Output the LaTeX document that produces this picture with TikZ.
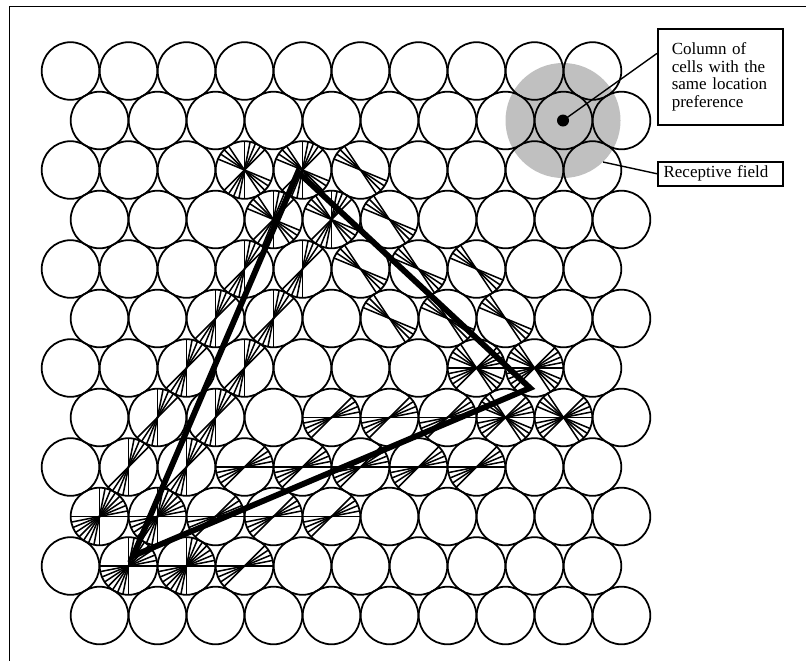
\documentclass[tikz,border=0pt]{standalone}
\usepackage{fontspec}
\setmainfont{Liberation Serif}
\usepackage{tikz}
\usetikzlibrary{calc}
\definecolor{field}{HTML}{C0C0C0}
\newcommand\cellrad{28.8}
\newcommand\fieldrad{55}
% distance from point (#1,#2) to segment (#3,#4)--(#5,#6), result in \sdist
\newcommand\segdist[6]{%
  \edef\segt{\fpeval{max(0,min(1,((#1-#3)*(#5-#3)+(#2-#4)*(#6-#4))/((#5-#3)^2+(#6-#4)^2)))}}%
  \edef\sdist{\fpeval{sqrt((#1-#3-\segt*(#5-#3))^2+(#2-#4-\segt*(#6-#4))^2)}}%
}
% difference of two orientations, modulo 180
\newcommand\angdiff[2]{min(((#1)-(#2))-180*floor(((#1)-(#2))/180),180-(((#1)-(#2))-180*floor(((#1)-(#2))/180)))}

\begin{document}
\begin{tikzpicture}[x=0.03cm,y=-0.03cm,
  cellline/.style={line width=1.5pt},
  tuning/.style={line width=1.3pt},
  stimulus/.style={line width=5pt,line join=miter},
  notebox/.style={draw,line width=1.3pt,anchor=north west,align=left,inner xsep=5pt,
    font=\fontsize{14.5}{15}\selectfont}]
\useasboundingbox (0,0) rectangle (806,661);
\draw[line width=1.5pt] (806,6.5) -- (9.5,6.5) -- (9.5,661);

% receptive field of one column
\node[circle,fill=field,minimum size=3.45cm,inner sep=0pt] (rf) at (563,120.5) {};

% triangle corners
\def\Ax{133}\def\Ay{556}
\def\Bx{298}\def\By{172}
\def\Cx{530}\def\Cy{388}
\coordinate (A) at (\Ax,\Ay);
\coordinate (B) at (\Bx,\By);
\coordinate (C) at (\Cx,\Cy);
\edef\thAB{\fpeval{atand(\By-\Ay,\Bx-\Ax)}}
\edef\thBC{\fpeval{atand(\Cy-\By,\Cx-\Bx)}}
\edef\thCA{\fpeval{atand(\Ay-\Cy,\Ax-\Cx)}}

% columns and the orientations that respond
\foreach \row in {0,...,11}{
  \foreach \col in {0,...,9}{
    \edef\cx{\fpeval{70.5+29*(\row-2*floor(\row/2))+58*\col}}
    \edef\cy{\fpeval{71+49.5*\row}}
    \draw[cellline] (\cx,\cy) circle[radius=\cellrad];
    \segdist{\cx}{\cy}{\Ax}{\Ay}{\Bx}{\By}\let\dAB\sdist
    \segdist{\cx}{\cy}{\Bx}{\By}{\Cx}{\Cy}\let\dBC\sdist
    \segdist{\cx}{\cy}{\Cx}{\Cy}{\Ax}{\Ay}\let\dCA\sdist
    \foreach \j in {0,...,15}{
      \edef\ang{\fpeval{11.25*\j}}
      \ifnum\fpeval{((\dAB<=\fieldrad) && (\angdiff{\ang}{\thAB}<=24))
        || ((\dBC<=\fieldrad) && (\angdiff{\ang}{\thBC}<=24))
        || ((\dCA<=\fieldrad) && (\angdiff{\ang}{\thCA}<=24))}=1
        \draw[tuning] (\cx,\cy) ++(\ang:\cellrad) -- ++(\ang+180:2*\cellrad);
      \fi
    }
  }
}

\draw[stimulus] (A) -- (B) -- (C) -- cycle;

\node[circle,fill=black,inner sep=0pt,minimum size=0.36cm] (colcentre) at (rf) {};

\node[notebox,inner xsep=12pt,text width=83pt,minimum height=2.88cm] (collabel) at (657,28)
  {Column of\\cells with the\\same location\\preference};
\node[notebox,text width=97pt,minimum height=0.72cm] (rflabel) at (657,161) {Receptive field};

\draw[line width=1.2pt] (colcentre.center) -- ($(collabel.north west)!0.26!(collabel.south west)$);
\draw[line width=1.2pt] (rf.-46) -- (rflabel.west);
\end{tikzpicture}
\end{document}
